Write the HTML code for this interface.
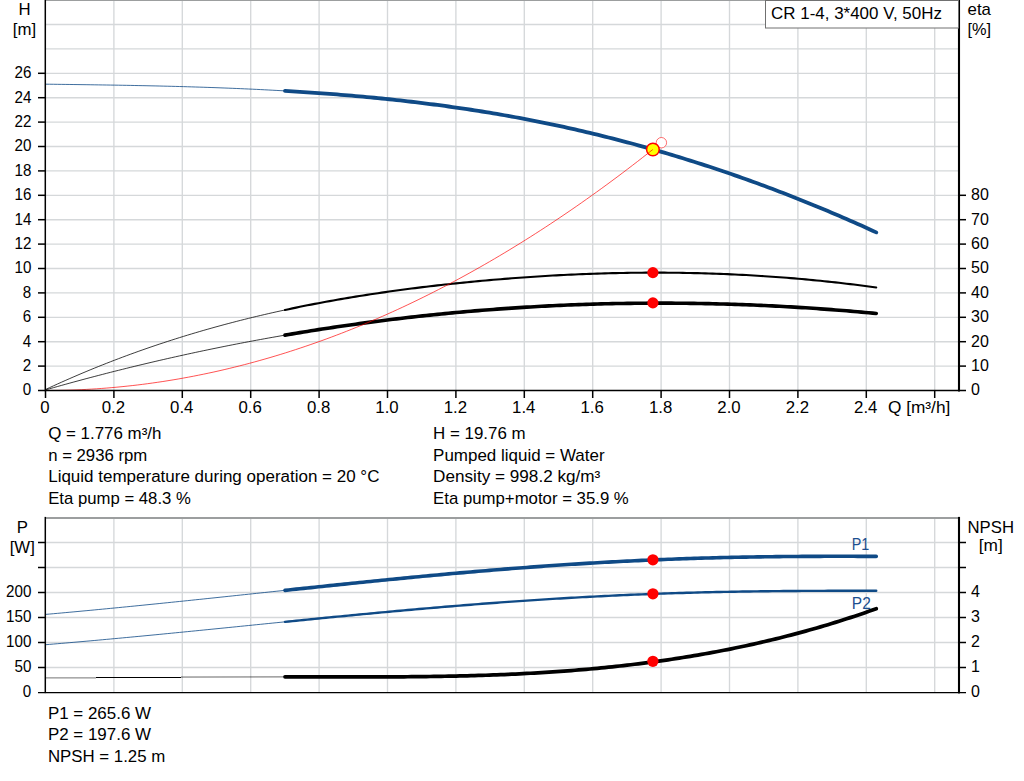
<!DOCTYPE html>
<html><head><meta charset="utf-8"><title>Pump curve</title>
<style>
html,body{margin:0;padding:0;background:#fff;}
body{width:1024px;height:781px;position:relative;overflow:hidden;font-family:"Liberation Sans",sans-serif;}
</style></head><body>
<svg width="1024" height="781" viewBox="0 0 1024 781" style="position:absolute;left:0;top:0">
<rect width="1024" height="781" fill="#fff"/>
<g stroke="#d5d8da" stroke-width="1.35" fill="none">
<line x1="113.90" y1="0.5" x2="113.90" y2="390.5"/>
<line x1="113.90" y1="517.9" x2="113.90" y2="692.5"/>
<line x1="182.30" y1="0.5" x2="182.30" y2="390.5"/>
<line x1="182.30" y1="517.9" x2="182.30" y2="692.5"/>
<line x1="250.70" y1="0.5" x2="250.70" y2="390.5"/>
<line x1="250.70" y1="517.9" x2="250.70" y2="692.5"/>
<line x1="319.10" y1="0.5" x2="319.10" y2="390.5"/>
<line x1="319.10" y1="517.9" x2="319.10" y2="692.5"/>
<line x1="387.50" y1="0.5" x2="387.50" y2="390.5"/>
<line x1="387.50" y1="517.9" x2="387.50" y2="692.5"/>
<line x1="455.90" y1="0.5" x2="455.90" y2="390.5"/>
<line x1="455.90" y1="517.9" x2="455.90" y2="692.5"/>
<line x1="524.30" y1="0.5" x2="524.30" y2="390.5"/>
<line x1="524.30" y1="517.9" x2="524.30" y2="692.5"/>
<line x1="592.70" y1="0.5" x2="592.70" y2="390.5"/>
<line x1="592.70" y1="517.9" x2="592.70" y2="692.5"/>
<line x1="661.10" y1="0.5" x2="661.10" y2="390.5"/>
<line x1="661.10" y1="517.9" x2="661.10" y2="692.5"/>
<line x1="729.50" y1="0.5" x2="729.50" y2="390.5"/>
<line x1="729.50" y1="517.9" x2="729.50" y2="692.5"/>
<line x1="797.90" y1="0.5" x2="797.90" y2="390.5"/>
<line x1="797.90" y1="517.9" x2="797.90" y2="692.5"/>
<line x1="866.30" y1="0.5" x2="866.30" y2="390.5"/>
<line x1="866.30" y1="517.9" x2="866.30" y2="692.5"/>
<line x1="934.70" y1="0.5" x2="934.70" y2="390.5"/>
<line x1="934.70" y1="517.9" x2="934.70" y2="692.5"/>
<line x1="45.5" y1="366.10" x2="959.0" y2="366.10"/>
<line x1="45.5" y1="341.70" x2="959.0" y2="341.70"/>
<line x1="45.5" y1="317.30" x2="959.0" y2="317.30"/>
<line x1="45.5" y1="292.90" x2="959.0" y2="292.90"/>
<line x1="45.5" y1="268.50" x2="959.0" y2="268.50"/>
<line x1="45.5" y1="244.10" x2="959.0" y2="244.10"/>
<line x1="45.5" y1="219.70" x2="959.0" y2="219.70"/>
<line x1="45.5" y1="195.30" x2="959.0" y2="195.30"/>
<line x1="45.5" y1="170.90" x2="959.0" y2="170.90"/>
<line x1="45.5" y1="146.50" x2="959.0" y2="146.50"/>
<line x1="45.5" y1="122.10" x2="959.0" y2="122.10"/>
<line x1="45.5" y1="97.70" x2="959.0" y2="97.70"/>
<line x1="45.5" y1="73.30" x2="959.0" y2="73.30"/>
<line x1="45.5" y1="48.90" x2="959.0" y2="48.90"/>
<line x1="45.5" y1="24.50" x2="959.0" y2="24.50"/>
<line x1="45.5" y1="667.50" x2="959.0" y2="667.50"/>
<line x1="45.5" y1="642.50" x2="959.0" y2="642.50"/>
<line x1="45.5" y1="617.50" x2="959.0" y2="617.50"/>
<line x1="45.5" y1="592.50" x2="959.0" y2="592.50"/>
<line x1="45.5" y1="567.50" x2="959.0" y2="567.50"/>
<line x1="45.5" y1="542.50" x2="959.0" y2="542.50"/>
</g>
<line x1="45.5" y1="0.4" x2="959.0" y2="0.4" stroke="#9c9e9f" stroke-width="1.4"/>
<line x1="45.5" y1="517.9" x2="959.0" y2="517.9" stroke="#9c9e9f" stroke-width="2"/>
<path d="M45.50,84.18 L49.56,84.23 L53.62,84.28 L57.68,84.33 L61.74,84.38 L65.80,84.43 L69.86,84.48 L73.92,84.54 L77.97,84.59 L82.03,84.65 L86.09,84.70 L90.15,84.76 L94.21,84.82 L98.27,84.88 L102.33,84.94 L106.39,85.00 L110.45,85.07 L114.51,85.13 L118.57,85.20 L122.63,85.27 L126.69,85.34 L130.75,85.42 L134.81,85.50 L138.86,85.58 L142.92,85.66 L146.98,85.74 L151.04,85.83 L155.10,85.92 L159.16,86.01 L163.22,86.11 L167.28,86.21 L171.34,86.31 L175.40,86.42 L179.46,86.53 L183.52,86.64 L187.58,86.76 L191.64,86.88 L195.69,87.00 L199.75,87.13 L203.81,87.26 L207.87,87.40 L211.93,87.54 L215.99,87.68 L220.05,87.83 L224.11,87.99 L228.17,88.15 L232.23,88.31 L236.29,88.48 L240.35,88.65 L244.41,88.83 L248.47,89.01 L252.53,89.20 L256.58,89.39 L260.64,89.59 L264.70,89.80 L268.76,90.01 L272.82,90.22 L276.88,90.44 L280.94,90.67 L285.00,90.90" fill="none" stroke="#0f4a86" stroke-width="1.0" stroke-opacity="0.8"/>
<path d="M285.00,90.90 L288.72,91.12 L292.44,91.35 L296.16,91.58 L299.87,91.81 L303.59,92.05 L307.31,92.30 L311.03,92.55 L314.75,92.81 L318.47,93.07 L322.19,93.34 L325.90,93.62 L329.62,93.90 L333.34,94.18 L337.06,94.48 L340.78,94.78 L344.50,95.08 L348.22,95.39 L351.93,95.71 L355.65,96.04 L359.37,96.37 L363.09,96.71 L366.81,97.05 L370.53,97.40 L374.25,97.76 L377.96,98.13 L381.68,98.50 L385.40,98.88 L389.12,99.26 L392.84,99.66 L396.56,100.06 L400.28,100.47 L403.99,100.89 L407.71,101.31 L411.43,101.74 L415.15,102.18 L418.87,102.63 L422.59,103.08 L426.31,103.55 L430.02,104.02 L433.74,104.50 L437.46,104.99 L441.18,105.48 L444.90,105.98 L448.62,106.50 L452.33,107.02 L456.05,107.55 L459.77,108.09 L463.49,108.63 L467.21,109.19 L470.93,109.75 L474.65,110.33 L478.36,110.91 L482.08,111.50 L485.80,112.10 L489.52,112.71 L493.24,113.33 L496.96,113.96 L500.68,114.60 L504.39,115.25 L508.11,115.91 L511.83,116.58 L515.55,117.25 L519.27,117.94 L522.99,118.64 L526.71,119.35 L530.42,120.06 L534.14,120.79 L537.86,121.53 L541.58,122.28 L545.30,123.03 L549.02,123.80 L552.74,124.58 L556.45,125.37 L560.17,126.17 L563.89,126.97 L567.61,127.79 L571.33,128.62 L575.05,129.46 L578.77,130.31 L582.48,131.17 L586.20,132.04 L589.92,132.92 L593.64,133.81 L597.36,134.71 L601.08,135.62 L604.80,136.54 L608.51,137.48 L612.23,138.42 L615.95,139.37 L619.67,140.33 L623.39,141.30 L627.11,142.29 L630.83,143.28 L634.54,144.29 L638.26,145.30 L641.98,146.32 L645.70,147.36 L649.42,148.41 L653.14,149.46 L656.86,150.53 L660.57,151.61 L664.29,152.69 L668.01,153.79 L671.73,154.90 L675.45,156.02 L679.17,157.15 L682.89,158.29 L686.60,159.44 L690.32,160.60 L694.04,161.77 L697.76,162.95 L701.48,164.15 L705.20,165.35 L708.92,166.56 L712.63,167.79 L716.35,169.02 L720.07,170.27 L723.79,171.53 L727.51,172.79 L731.23,174.07 L734.94,175.36 L738.66,176.66 L742.38,177.97 L746.10,179.29 L749.82,180.62 L753.54,181.96 L757.26,183.32 L760.97,184.68 L764.69,186.06 L768.41,187.44 L772.13,188.84 L775.85,190.24 L779.57,191.66 L783.29,193.09 L787.00,194.53 L790.72,195.98 L794.44,197.44 L798.16,198.91 L801.88,200.40 L805.60,201.89 L809.32,203.40 L813.03,204.91 L816.75,206.44 L820.47,207.97 L824.19,209.52 L827.91,211.08 L831.63,212.65 L835.35,214.23 L839.06,215.83 L842.78,217.43 L846.50,219.04 L850.22,220.67 L853.94,222.31 L857.66,223.95 L861.38,225.61 L865.09,227.28 L868.81,228.96 L872.53,230.65 L876.25,232.36" fill="none" stroke="#0f4a86" stroke-width="3.8" stroke-linecap="round"/>

<path d="M45.50,389.52 L49.56,387.63 L53.62,385.77 L57.68,383.92 L61.74,382.09 L65.80,380.29 L69.86,378.51 L73.92,376.74 L77.97,375.00 L82.03,373.28 L86.09,371.58 L90.15,369.89 L94.21,368.23 L98.27,366.59 L102.33,364.96 L106.39,363.36 L110.45,361.77 L114.51,360.21 L118.57,358.66 L122.63,357.13 L126.69,355.62 L130.75,354.13 L134.81,352.66 L138.86,351.20 L142.92,349.77 L146.98,348.35 L151.04,346.95 L155.10,345.57 L159.16,344.20 L163.22,342.86 L167.28,341.53 L171.34,340.22 L175.40,338.92 L179.46,337.64 L183.52,336.38 L187.58,335.14 L191.64,333.91 L195.69,332.70 L199.75,331.50 L203.81,330.32 L207.87,329.16 L211.93,328.02 L215.99,326.88 L220.05,325.77 L224.11,324.67 L228.17,323.59 L232.23,322.52 L236.29,321.46 L240.35,320.42 L244.41,319.40 L248.47,318.39 L252.53,317.40 L256.58,316.42 L260.64,315.45 L264.70,314.50 L268.76,313.56 L272.82,312.64 L276.88,311.73 L280.94,310.84 L285.00,309.95" fill="none" stroke="#000" stroke-width="0.9" stroke-opacity="0.85"/>
<path d="M285.00,309.95 L288.72,309.16 L292.44,308.37 L296.16,307.60 L299.87,306.84 L303.59,306.09 L307.31,305.34 L311.03,304.61 L314.75,303.89 L318.47,303.18 L322.19,302.49 L325.90,301.80 L329.62,301.12 L333.34,300.45 L337.06,299.79 L340.78,299.14 L344.50,298.50 L348.22,297.87 L351.93,297.26 L355.65,296.64 L359.37,296.04 L363.09,295.45 L366.81,294.87 L370.53,294.30 L374.25,293.73 L377.96,293.18 L381.68,292.63 L385.40,292.09 L389.12,291.56 L392.84,291.04 L396.56,290.53 L400.28,290.02 L403.99,289.53 L407.71,289.04 L411.43,288.56 L415.15,288.09 L418.87,287.62 L422.59,287.16 L426.31,286.72 L430.02,286.27 L433.74,285.84 L437.46,285.41 L441.18,284.99 L444.90,284.58 L448.62,284.17 L452.33,283.77 L456.05,283.38 L459.77,282.99 L463.49,282.61 L467.21,282.24 L470.93,281.87 L474.65,281.51 L478.36,281.16 L482.08,280.81 L485.80,280.47 L489.52,280.14 L493.24,279.82 L496.96,279.50 L500.68,279.19 L504.39,278.88 L508.11,278.58 L511.83,278.29 L515.55,278.01 L519.27,277.73 L522.99,277.46 L526.71,277.20 L530.42,276.94 L534.14,276.70 L537.86,276.45 L541.58,276.22 L545.30,275.99 L549.02,275.77 L552.74,275.56 L556.45,275.36 L560.17,275.16 L563.89,274.97 L567.61,274.78 L571.33,274.61 L575.05,274.44 L578.77,274.28 L582.48,274.12 L586.20,273.98 L589.92,273.84 L593.64,273.71 L597.36,273.58 L601.08,273.47 L604.80,273.36 L608.51,273.26 L612.23,273.16 L615.95,273.08 L619.67,273.00 L623.39,272.93 L627.11,272.87 L630.83,272.81 L634.54,272.76 L638.26,272.73 L641.98,272.69 L645.70,272.67 L649.42,272.65 L653.14,272.65 L656.86,272.65 L660.57,272.65 L664.29,272.67 L668.01,272.69 L671.73,272.72 L675.45,272.76 L679.17,272.81 L682.89,272.87 L686.60,272.93 L690.32,273.00 L694.04,273.08 L697.76,273.17 L701.48,273.27 L705.20,273.37 L708.92,273.49 L712.63,273.61 L716.35,273.74 L720.07,273.87 L723.79,274.02 L727.51,274.17 L731.23,274.34 L734.94,274.51 L738.66,274.69 L742.38,274.88 L746.10,275.07 L749.82,275.28 L753.54,275.49 L757.26,275.71 L760.97,275.95 L764.69,276.18 L768.41,276.43 L772.13,276.69 L775.85,276.95 L779.57,277.23 L783.29,277.51 L787.00,277.80 L790.72,278.10 L794.44,278.41 L798.16,278.73 L801.88,279.06 L805.60,279.39 L809.32,279.74 L813.03,280.09 L816.75,280.45 L820.47,280.82 L824.19,281.20 L827.91,281.59 L831.63,281.99 L835.35,282.40 L839.06,282.81 L842.78,283.24 L846.50,283.67 L850.22,284.12 L853.94,284.57 L857.66,285.03 L861.38,285.50 L865.09,285.98 L868.81,286.47 L872.53,286.97 L876.25,287.48" fill="none" stroke="#000" stroke-width="2.1" stroke-linecap="round"/>

<path d="M45.50,389.92 L49.56,388.76 L53.62,387.61 L57.68,386.47 L61.74,385.34 L65.80,384.21 L69.86,383.09 L73.92,381.98 L77.97,380.88 L82.03,379.79 L86.09,378.70 L90.15,377.62 L94.21,376.55 L98.27,375.49 L102.33,374.44 L106.39,373.39 L110.45,372.35 L114.51,371.32 L118.57,370.30 L122.63,369.29 L126.69,368.28 L130.75,367.28 L134.81,366.29 L138.86,365.31 L142.92,364.33 L146.98,363.37 L151.04,362.41 L155.10,361.46 L159.16,360.51 L163.22,359.58 L167.28,358.65 L171.34,357.73 L175.40,356.82 L179.46,355.91 L183.52,355.02 L187.58,354.13 L191.64,353.25 L195.69,352.37 L199.75,351.51 L203.81,350.65 L207.87,349.80 L211.93,348.96 L215.99,348.13 L220.05,347.30 L224.11,346.48 L228.17,345.67 L232.23,344.87 L236.29,344.07 L240.35,343.29 L244.41,342.51 L248.47,341.73 L252.53,340.97 L256.58,340.21 L260.64,339.47 L264.70,338.73 L268.76,337.99 L272.82,337.27 L276.88,336.55 L280.94,335.84 L285.00,335.14" fill="none" stroke="#000" stroke-width="0.9" stroke-opacity="0.85"/>
<path d="M285.00,335.14 L288.72,334.50 L292.44,333.87 L296.16,333.25 L299.87,332.63 L303.59,332.02 L307.31,331.42 L311.03,330.82 L314.75,330.23 L318.47,329.65 L322.19,329.07 L325.90,328.50 L329.62,327.93 L333.34,327.37 L337.06,326.82 L340.78,326.28 L344.50,325.74 L348.22,325.20 L351.93,324.68 L355.65,324.16 L359.37,323.65 L363.09,323.14 L366.81,322.64 L370.53,322.14 L374.25,321.66 L377.96,321.17 L381.68,320.70 L385.40,320.23 L389.12,319.77 L392.84,319.31 L396.56,318.86 L400.28,318.42 L403.99,317.98 L407.71,317.55 L411.43,317.13 L415.15,316.71 L418.87,316.30 L422.59,315.90 L426.31,315.50 L430.02,315.11 L433.74,314.72 L437.46,314.34 L441.18,313.97 L444.90,313.60 L448.62,313.24 L452.33,312.89 L456.05,312.54 L459.77,312.20 L463.49,311.87 L467.21,311.54 L470.93,311.22 L474.65,310.90 L478.36,310.59 L482.08,310.29 L485.80,309.99 L489.52,309.70 L493.24,309.42 L496.96,309.14 L500.68,308.87 L504.39,308.60 L508.11,308.35 L511.83,308.09 L515.55,307.85 L519.27,307.61 L522.99,307.37 L526.71,307.15 L530.42,306.93 L534.14,306.71 L537.86,306.50 L541.58,306.30 L545.30,306.11 L549.02,305.92 L552.74,305.73 L556.45,305.56 L560.17,305.39 L563.89,305.22 L567.61,305.06 L571.33,304.91 L575.05,304.76 L578.77,304.63 L582.48,304.49 L586.20,304.37 L589.92,304.24 L593.64,304.13 L597.36,304.02 L601.08,303.92 L604.80,303.82 L608.51,303.73 L612.23,303.65 L615.95,303.57 L619.67,303.50 L623.39,303.44 L627.11,303.38 L630.83,303.33 L634.54,303.28 L638.26,303.24 L641.98,303.21 L645.70,303.18 L649.42,303.16 L653.14,303.15 L656.86,303.14 L660.57,303.13 L664.29,303.14 L668.01,303.15 L671.73,303.16 L675.45,303.18 L679.17,303.21 L682.89,303.25 L686.60,303.29 L690.32,303.33 L694.04,303.39 L697.76,303.45 L701.48,303.51 L705.20,303.58 L708.92,303.66 L712.63,303.74 L716.35,303.83 L720.07,303.93 L723.79,304.03 L727.51,304.14 L731.23,304.25 L734.94,304.37 L738.66,304.50 L742.38,304.63 L746.10,304.77 L749.82,304.92 L753.54,305.07 L757.26,305.22 L760.97,305.39 L764.69,305.56 L768.41,305.73 L772.13,305.91 L775.85,306.10 L779.57,306.29 L783.29,306.49 L787.00,306.70 L790.72,306.91 L794.44,307.13 L798.16,307.35 L801.88,307.58 L805.60,307.82 L809.32,308.06 L813.03,308.31 L816.75,308.56 L820.47,308.83 L824.19,309.09 L827.91,309.36 L831.63,309.64 L835.35,309.93 L839.06,310.22 L842.78,310.51 L846.50,310.82 L850.22,311.13 L853.94,311.44 L857.66,311.76 L861.38,312.09 L865.09,312.42 L868.81,312.76 L872.53,313.10 L876.25,313.45" fill="none" stroke="#000" stroke-width="3.6" stroke-linecap="round"/>

<circle cx="661.4" cy="142.7" r="5.2" fill="#fff" stroke="#ff0000" stroke-width="0.8" stroke-opacity="0.7"/>
<circle cx="652.9" cy="149.5" r="6.3" fill="#ffff00" stroke="#ff0000" stroke-width="1.5"/>
<path d="M45.50,390.50 L50.60,390.48 L55.71,390.43 L60.81,390.35 L65.91,390.23 L71.02,390.07 L76.12,389.89 L81.22,389.67 L86.33,389.41 L91.43,389.12 L96.53,388.80 L101.64,388.44 L106.74,388.05 L111.84,387.62 L116.95,387.16 L122.05,386.67 L127.15,386.14 L132.26,385.58 L137.36,384.99 L142.46,384.36 L147.57,383.69 L152.67,382.99 L157.77,382.26 L162.88,381.50 L167.98,380.70 L173.08,379.86 L178.19,379.00 L183.29,378.09 L188.39,377.16 L193.50,376.19 L198.60,375.18 L203.70,374.15 L208.81,373.07 L213.91,371.97 L219.01,370.83 L224.12,369.65 L229.22,368.44 L234.32,367.20 L239.43,365.93 L244.53,364.61 L249.63,363.27 L254.74,361.89 L259.84,360.48 L264.94,359.03 L270.05,357.55 L275.15,356.04 L280.25,354.49 L285.36,352.91 L290.46,351.29 L295.56,349.64 L300.67,347.95 L305.77,346.23 L310.87,344.48 L315.98,342.69 L321.08,340.87 L326.18,339.02 L331.29,337.13 L336.39,335.21 L341.49,333.25 L346.60,331.26 L351.70,329.23 L356.81,327.17 L361.91,325.08 L367.01,322.95 L372.12,320.79 L377.22,318.60 L382.32,316.37 L387.43,314.10 L392.53,311.81 L397.63,309.47 L402.74,307.11 L407.84,304.71 L412.94,302.28 L418.05,299.81 L423.15,297.31 L428.25,294.77 L433.36,292.20 L438.46,289.60 L443.56,286.96 L448.67,284.29 L453.77,281.58 L458.87,278.84 L463.98,276.07 L469.08,273.26 L474.18,270.42 L479.29,267.54 L484.39,264.63 L489.49,261.69 L494.60,258.71 L499.70,255.70 L504.80,252.65 L509.91,249.57 L515.01,246.45 L520.11,243.31 L525.22,240.12 L530.32,236.91 L535.42,233.66 L540.53,230.37 L545.63,227.05 L550.73,223.70 L555.84,220.31 L560.94,216.89 L566.04,213.44 L571.15,209.95 L576.25,206.43 L581.35,202.87 L586.46,199.28 L591.56,195.65 L596.66,192.00 L601.77,188.30 L606.87,184.58 L611.97,180.81 L617.08,177.02 L622.18,173.19 L627.28,169.33 L632.39,165.43 L637.49,161.50 L642.59,157.53 L647.70,153.53 L652.80,149.50" fill="none" stroke="#ff0000" stroke-width="0.8" stroke-opacity="0.85"/>
<circle cx="652.9" cy="272.6" r="5.6" fill="#ff0000"/>
<circle cx="652.9" cy="302.9" r="5.6" fill="#ff0000"/>
<path d="M45.50,614.42 L49.56,614.06 L53.62,613.70 L57.68,613.33 L61.74,612.96 L65.80,612.59 L69.86,612.22 L73.92,611.85 L77.97,611.47 L82.03,611.09 L86.09,610.71 L90.15,610.33 L94.21,609.94 L98.27,609.56 L102.33,609.17 L106.39,608.78 L110.45,608.39 L114.51,607.99 L118.57,607.60 L122.63,607.20 L126.69,606.80 L130.75,606.40 L134.81,606.00 L138.86,605.59 L142.92,605.19 L146.98,604.78 L151.04,604.37 L155.10,603.96 L159.16,603.55 L163.22,603.13 L167.28,602.72 L171.34,602.30 L175.40,601.89 L179.46,601.47 L183.52,601.05 L187.58,600.63 L191.64,600.21 L195.69,599.78 L199.75,599.36 L203.81,598.94 L207.87,598.51 L211.93,598.08 L215.99,597.66 L220.05,597.23 L224.11,596.80 L228.17,596.37 L232.23,595.94 L236.29,595.51 L240.35,595.08 L244.41,594.65 L248.47,594.22 L252.53,593.79 L256.58,593.36 L260.64,592.93 L264.70,592.50 L268.76,592.07 L272.82,591.63 L276.88,591.20 L280.94,590.77 L285.00,590.34" fill="none" stroke="#0f4a86" stroke-width="1.0" stroke-opacity="0.8"/>
<path d="M285.00,590.34 L288.72,589.95 L292.44,589.55 L296.16,589.16 L299.87,588.76 L303.59,588.37 L307.31,587.98 L311.03,587.59 L314.75,587.20 L318.47,586.81 L322.19,586.42 L325.90,586.03 L329.62,585.64 L333.34,585.25 L337.06,584.86 L340.78,584.48 L344.50,584.09 L348.22,583.71 L351.93,583.33 L355.65,582.94 L359.37,582.56 L363.09,582.18 L366.81,581.81 L370.53,581.43 L374.25,581.06 L377.96,580.68 L381.68,580.31 L385.40,579.94 L389.12,579.57 L392.84,579.20 L396.56,578.84 L400.28,578.47 L403.99,578.11 L407.71,577.75 L411.43,577.39 L415.15,577.03 L418.87,576.68 L422.59,576.32 L426.31,575.97 L430.02,575.63 L433.74,575.28 L437.46,574.93 L441.18,574.59 L444.90,574.25 L448.62,573.91 L452.33,573.58 L456.05,573.25 L459.77,572.91 L463.49,572.59 L467.21,572.26 L470.93,571.94 L474.65,571.62 L478.36,571.30 L482.08,570.98 L485.80,570.67 L489.52,570.36 L493.24,570.06 L496.96,569.75 L500.68,569.45 L504.39,569.15 L508.11,568.86 L511.83,568.56 L515.55,568.27 L519.27,567.99 L522.99,567.70 L526.71,567.42 L530.42,567.15 L534.14,566.87 L537.86,566.60 L541.58,566.34 L545.30,566.07 L549.02,565.81 L552.74,565.55 L556.45,565.30 L560.17,565.05 L563.89,564.80 L567.61,564.56 L571.33,564.31 L575.05,564.08 L578.77,563.84 L582.48,563.61 L586.20,563.39 L589.92,563.16 L593.64,562.94 L597.36,562.73 L601.08,562.52 L604.80,562.31 L608.51,562.10 L612.23,561.90 L615.95,561.70 L619.67,561.51 L623.39,561.32 L627.11,561.13 L630.83,560.95 L634.54,560.77 L638.26,560.59 L641.98,560.42 L645.70,560.25 L649.42,560.09 L653.14,559.93 L656.86,559.77 L660.57,559.62 L664.29,559.47 L668.01,559.32 L671.73,559.18 L675.45,559.04 L679.17,558.90 L682.89,558.77 L686.60,558.65 L690.32,558.52 L694.04,558.40 L697.76,558.29 L701.48,558.17 L705.20,558.06 L708.92,557.96 L712.63,557.86 L716.35,557.76 L720.07,557.66 L723.79,557.57 L727.51,557.48 L731.23,557.40 L734.94,557.32 L738.66,557.24 L742.38,557.17 L746.10,557.10 L749.82,557.03 L753.54,556.96 L757.26,556.90 L760.97,556.85 L764.69,556.79 L768.41,556.74 L772.13,556.69 L775.85,556.65 L779.57,556.60 L783.29,556.57 L787.00,556.53 L790.72,556.50 L794.44,556.47 L798.16,556.44 L801.88,556.41 L805.60,556.39 L809.32,556.37 L813.03,556.35 L816.75,556.34 L820.47,556.33 L824.19,556.32 L827.91,556.31 L831.63,556.31 L835.35,556.30 L839.06,556.30 L842.78,556.30 L846.50,556.31 L850.22,556.31 L853.94,556.32 L857.66,556.33 L861.38,556.34 L865.09,556.35 L868.81,556.36 L872.53,556.38 L876.25,556.39" fill="none" stroke="#0f4a86" stroke-width="3.6" stroke-linecap="round"/>

<path d="M45.50,644.72 L49.56,644.38 L53.62,644.04 L57.68,643.70 L61.74,643.35 L65.80,643.00 L69.86,642.65 L73.92,642.30 L77.97,641.94 L82.03,641.58 L86.09,641.22 L90.15,640.86 L94.21,640.50 L98.27,640.13 L102.33,639.76 L106.39,639.39 L110.45,639.02 L114.51,638.64 L118.57,638.27 L122.63,637.89 L126.69,637.51 L130.75,637.13 L134.81,636.74 L138.86,636.36 L142.92,635.97 L146.98,635.58 L151.04,635.19 L155.10,634.80 L159.16,634.41 L163.22,634.01 L167.28,633.62 L171.34,633.22 L175.40,632.82 L179.46,632.43 L183.52,632.03 L187.58,631.62 L191.64,631.22 L195.69,630.82 L199.75,630.42 L203.81,630.01 L207.87,629.60 L211.93,629.20 L215.99,628.79 L220.05,628.38 L224.11,627.98 L228.17,627.57 L232.23,627.16 L236.29,626.75 L240.35,626.34 L244.41,625.93 L248.47,625.52 L252.53,625.11 L256.58,624.70 L260.64,624.30 L264.70,623.89 L268.76,623.48 L272.82,623.07 L276.88,622.66 L280.94,622.25 L285.00,621.84" fill="none" stroke="#0f4a86" stroke-width="1.0" stroke-opacity="0.8"/>
<path d="M285.00,621.84 L288.72,621.47 L292.44,621.10 L296.16,620.73 L299.87,620.35 L303.59,619.98 L307.31,619.61 L311.03,619.24 L314.75,618.87 L318.47,618.51 L322.19,618.14 L325.90,617.77 L329.62,617.41 L333.34,617.04 L337.06,616.68 L340.78,616.32 L344.50,615.96 L348.22,615.60 L351.93,615.24 L355.65,614.88 L359.37,614.53 L363.09,614.17 L366.81,613.82 L370.53,613.47 L374.25,613.12 L377.96,612.77 L381.68,612.42 L385.40,612.08 L389.12,611.73 L392.84,611.39 L396.56,611.05 L400.28,610.71 L403.99,610.37 L407.71,610.04 L411.43,609.71 L415.15,609.38 L418.87,609.05 L422.59,608.72 L426.31,608.40 L430.02,608.08 L433.74,607.76 L437.46,607.44 L441.18,607.12 L444.90,606.81 L448.62,606.50 L452.33,606.19 L456.05,605.89 L459.77,605.58 L463.49,605.28 L467.21,604.98 L470.93,604.69 L474.65,604.39 L478.36,604.10 L482.08,603.82 L485.80,603.53 L489.52,603.25 L493.24,602.97 L496.96,602.69 L500.68,602.42 L504.39,602.15 L508.11,601.88 L511.83,601.61 L515.55,601.35 L519.27,601.09 L522.99,600.84 L526.71,600.58 L530.42,600.33 L534.14,600.09 L537.86,599.84 L541.58,599.60 L545.30,599.37 L549.02,599.13 L552.74,598.90 L556.45,598.67 L560.17,598.45 L563.89,598.23 L567.61,598.01 L571.33,597.79 L575.05,597.58 L578.77,597.37 L582.48,597.17 L586.20,596.97 L589.92,596.77 L593.64,596.58 L597.36,596.38 L601.08,596.20 L604.80,596.01 L608.51,595.83 L612.23,595.65 L615.95,595.48 L619.67,595.31 L623.39,595.14 L627.11,594.98 L630.83,594.82 L634.54,594.66 L638.26,594.51 L641.98,594.36 L645.70,594.21 L649.42,594.07 L653.14,593.93 L656.86,593.79 L660.57,593.66 L664.29,593.53 L668.01,593.40 L671.73,593.28 L675.45,593.16 L679.17,593.04 L682.89,592.93 L686.60,592.82 L690.32,592.71 L694.04,592.61 L697.76,592.51 L701.48,592.41 L705.20,592.32 L708.92,592.23 L712.63,592.14 L716.35,592.06 L720.07,591.98 L723.79,591.90 L727.51,591.83 L731.23,591.76 L734.94,591.69 L738.66,591.62 L742.38,591.56 L746.10,591.50 L749.82,591.44 L753.54,591.39 L757.26,591.34 L760.97,591.29 L764.69,591.24 L768.41,591.20 L772.13,591.16 L775.85,591.12 L779.57,591.08 L783.29,591.05 L787.00,591.02 L790.72,590.99 L794.44,590.96 L798.16,590.94 L801.88,590.92 L805.60,590.90 L809.32,590.88 L813.03,590.86 L816.75,590.85 L820.47,590.84 L824.19,590.83 L827.91,590.82 L831.63,590.81 L835.35,590.80 L839.06,590.80 L842.78,590.80 L846.50,590.79 L850.22,590.79 L853.94,590.79 L857.66,590.80 L861.38,590.80 L865.09,590.80 L868.81,590.81 L872.53,590.81 L876.25,590.82" fill="none" stroke="#0f4a86" stroke-width="2.4" stroke-linecap="round"/>

<path d="M45.50,677.91 L49.56,677.84 L53.62,677.78 L57.68,677.71 L61.74,677.65 L65.80,677.59 L69.86,677.54 L73.92,677.48 L77.97,677.43 L82.03,677.39 L86.09,677.34 L90.15,677.29 L94.21,677.25 L98.27,677.21 L102.33,677.18 L106.39,677.14 L110.45,677.11 L114.51,677.07 L118.57,677.04 L122.63,677.02 L126.69,676.99 L130.75,676.97 L134.81,676.94 L138.86,676.92 L142.92,676.90 L146.98,676.88 L151.04,676.87 L155.10,676.85 L159.16,676.84 L163.22,676.83 L167.28,676.82 L171.34,676.81 L175.40,676.80 L179.46,676.79 L183.52,676.79 L187.58,676.78 L191.64,676.78 L195.69,676.77 L199.75,676.77 L203.81,676.77 L207.87,676.77 L211.93,676.77 L215.99,676.77 L220.05,676.78 L224.11,676.78 L228.17,676.78 L232.23,676.79 L236.29,676.79 L240.35,676.80 L244.41,676.80 L248.47,676.81 L252.53,676.82 L256.58,676.82 L260.64,676.83 L264.70,676.84 L268.76,676.84 L272.82,676.85 L276.88,676.86 L280.94,676.87 L285.00,676.87" fill="none" stroke="#000" stroke-width="0.0" stroke-opacity="0.0"/>
<path d="M285.00,676.87 L288.72,676.88 L292.44,676.89 L296.16,676.89 L299.87,676.90 L303.59,676.91 L307.31,676.91 L311.03,676.92 L314.75,676.92 L318.47,676.93 L322.19,676.93 L325.90,676.94 L329.62,676.94 L333.34,676.94 L337.06,676.95 L340.78,676.95 L344.50,676.95 L348.22,676.95 L351.93,676.95 L355.65,676.95 L359.37,676.95 L363.09,676.94 L366.81,676.94 L370.53,676.93 L374.25,676.93 L377.96,676.92 L381.68,676.90 L385.40,676.89 L389.12,676.87 L392.84,676.85 L396.56,676.83 L400.28,676.81 L403.99,676.78 L407.71,676.75 L411.43,676.72 L415.15,676.69 L418.87,676.65 L422.59,676.60 L426.31,676.56 L430.02,676.51 L433.74,676.45 L437.46,676.40 L441.18,676.34 L444.90,676.27 L448.62,676.20 L452.33,676.12 L456.05,676.05 L459.77,675.96 L463.49,675.87 L467.21,675.78 L470.93,675.68 L474.65,675.57 L478.36,675.46 L482.08,675.35 L485.80,675.23 L489.52,675.10 L493.24,674.97 L496.96,674.83 L500.68,674.68 L504.39,674.53 L508.11,674.37 L511.83,674.21 L515.55,674.03 L519.27,673.85 L522.99,673.67 L526.71,673.47 L530.42,673.27 L534.14,673.07 L537.86,672.85 L541.58,672.63 L545.30,672.40 L549.02,672.16 L552.74,671.91 L556.45,671.66 L560.17,671.39 L563.89,671.12 L567.61,670.84 L571.33,670.56 L575.05,670.26 L578.77,669.96 L582.48,669.64 L586.20,669.32 L589.92,668.99 L593.64,668.65 L597.36,668.30 L601.08,667.94 L604.80,667.57 L608.51,667.20 L612.23,666.81 L615.95,666.41 L619.67,666.01 L623.39,665.59 L627.11,665.17 L630.83,664.73 L634.54,664.28 L638.26,663.83 L641.98,663.36 L645.70,662.88 L649.42,662.40 L653.14,661.90 L656.86,661.39 L660.57,660.87 L664.29,660.34 L668.01,659.80 L671.73,659.25 L675.45,658.68 L679.17,658.11 L682.89,657.52 L686.60,656.92 L690.32,656.32 L694.04,655.69 L697.76,655.06 L701.48,654.42 L705.20,653.76 L708.92,653.09 L712.63,652.41 L716.35,651.72 L720.07,651.01 L723.79,650.29 L727.51,649.56 L731.23,648.82 L734.94,648.06 L738.66,647.29 L742.38,646.51 L746.10,645.71 L749.82,644.90 L753.54,644.08 L757.26,643.25 L760.97,642.40 L764.69,641.53 L768.41,640.66 L772.13,639.77 L775.85,638.86 L779.57,637.94 L783.29,637.01 L787.00,636.06 L790.72,635.10 L794.44,634.12 L798.16,633.13 L801.88,632.12 L805.60,631.10 L809.32,630.07 L813.03,629.01 L816.75,627.95 L820.47,626.86 L824.19,625.77 L827.91,624.65 L831.63,623.52 L835.35,622.38 L839.06,621.22 L842.78,620.04 L846.50,618.84 L850.22,617.63 L853.94,616.41 L857.66,615.16 L861.38,613.90 L865.09,612.63 L868.81,611.33 L872.53,610.02 L876.25,608.69" fill="none" stroke="#000" stroke-width="3.7" stroke-linecap="round"/>

<path d="M45.5,677.9 L96,677.9" stroke="#000" stroke-width="1" stroke-opacity="0.55" fill="none"/>
<path d="M96,677.5 L181,677.5" stroke="#000" stroke-width="1" fill="none"/>
<path d="M181,677.05 L285,676.9" stroke="#000" stroke-width="1" stroke-opacity="0.6" fill="none"/>
<circle cx="652.9" cy="559.8" r="5.6" fill="#ff0000"/>
<circle cx="652.9" cy="593.8" r="5.6" fill="#ff0000"/>
<circle cx="652.9" cy="661.3" r="5.6" fill="#ff0000"/>
<g stroke="#000" fill="none">
<line x1="45.3" y1="0" x2="45.3" y2="391.2" stroke-width="1.5"/>
<line x1="959.0" y1="0" x2="959.0" y2="391.6" stroke-width="2.1"/>
<line x1="38.0" y1="390.5" x2="966.0" y2="390.5" stroke-width="1.45"/>
<line x1="45.3" y1="516.9" x2="45.3" y2="693.1" stroke-width="1.5"/>
<line x1="959.0" y1="516.9" x2="959.0" y2="693.4" stroke-width="2.1"/>
<line x1="38.0" y1="692.5" x2="966.0" y2="692.5" stroke-width="1.25"/>
</g>
<g stroke="#000" stroke-width="1.5" fill="none">
<line x1="38.0" y1="366.10" x2="45.5" y2="366.10"/>
<line x1="38.0" y1="341.70" x2="45.5" y2="341.70"/>
<line x1="38.0" y1="317.30" x2="45.5" y2="317.30"/>
<line x1="38.0" y1="292.90" x2="45.5" y2="292.90"/>
<line x1="38.0" y1="268.50" x2="45.5" y2="268.50"/>
<line x1="38.0" y1="244.10" x2="45.5" y2="244.10"/>
<line x1="38.0" y1="219.70" x2="45.5" y2="219.70"/>
<line x1="38.0" y1="195.30" x2="45.5" y2="195.30"/>
<line x1="38.0" y1="170.90" x2="45.5" y2="170.90"/>
<line x1="38.0" y1="146.50" x2="45.5" y2="146.50"/>
<line x1="38.0" y1="122.10" x2="45.5" y2="122.10"/>
<line x1="38.0" y1="97.70" x2="45.5" y2="97.70"/>
<line x1="38.0" y1="73.30" x2="45.5" y2="73.30"/>
<line x1="959.0" y1="366.10" x2="966.0" y2="366.10"/>
<line x1="959.0" y1="341.70" x2="966.0" y2="341.70"/>
<line x1="959.0" y1="317.30" x2="966.0" y2="317.30"/>
<line x1="959.0" y1="292.90" x2="966.0" y2="292.90"/>
<line x1="959.0" y1="268.50" x2="966.0" y2="268.50"/>
<line x1="959.0" y1="244.10" x2="966.0" y2="244.10"/>
<line x1="959.0" y1="219.70" x2="966.0" y2="219.70"/>
<line x1="959.0" y1="195.30" x2="966.0" y2="195.30"/>
<line x1="45.50" y1="390.5" x2="45.50" y2="398.0"/>
<line x1="113.90" y1="390.5" x2="113.90" y2="398.0"/>
<line x1="182.30" y1="390.5" x2="182.30" y2="398.0"/>
<line x1="250.70" y1="390.5" x2="250.70" y2="398.0"/>
<line x1="319.10" y1="390.5" x2="319.10" y2="398.0"/>
<line x1="387.50" y1="390.5" x2="387.50" y2="398.0"/>
<line x1="455.90" y1="390.5" x2="455.90" y2="398.0"/>
<line x1="524.30" y1="390.5" x2="524.30" y2="398.0"/>
<line x1="592.70" y1="390.5" x2="592.70" y2="398.0"/>
<line x1="661.10" y1="390.5" x2="661.10" y2="398.0"/>
<line x1="729.50" y1="390.5" x2="729.50" y2="398.0"/>
<line x1="797.90" y1="390.5" x2="797.90" y2="398.0"/>
<line x1="866.30" y1="390.5" x2="866.30" y2="398.0"/>
<line x1="934.70" y1="390.5" x2="934.70" y2="398.0"/>
<line x1="38.0" y1="667.50" x2="45.5" y2="667.50"/>
<line x1="959.0" y1="667.50" x2="966.0" y2="667.50"/>
<line x1="38.0" y1="642.50" x2="45.5" y2="642.50"/>
<line x1="959.0" y1="642.50" x2="966.0" y2="642.50"/>
<line x1="38.0" y1="617.50" x2="45.5" y2="617.50"/>
<line x1="959.0" y1="617.50" x2="966.0" y2="617.50"/>
<line x1="38.0" y1="592.50" x2="45.5" y2="592.50"/>
<line x1="959.0" y1="592.50" x2="966.0" y2="592.50"/>
<line x1="38.0" y1="567.50" x2="45.5" y2="567.50"/>
<line x1="959.0" y1="567.50" x2="966.0" y2="567.50"/>
<line x1="38.0" y1="542.50" x2="45.5" y2="542.50"/>
<line x1="959.0" y1="542.50" x2="966.0" y2="542.50"/>
</g>
<rect x="765.5" y="0.5" width="193" height="27.5" fill="#fff" stroke="#707070" stroke-width="1"/>
<g font-family="Liberation Sans, sans-serif" font-size="16px" fill="#000">
<text transform="translate(771.10,18.80) scale(1.0598,1)">CR 1-4, 3*400 V, 50Hz</text>
<text transform="translate(22.85,395.30) scale(0.9500,1)">0</text>
<text transform="translate(22.85,370.90) scale(0.9500,1)">2</text>
<text transform="translate(22.85,346.50) scale(0.9500,1)">4</text>
<text transform="translate(22.85,322.10) scale(0.9500,1)">6</text>
<text transform="translate(22.85,297.70) scale(0.9500,1)">8</text>
<text transform="translate(14.54,273.30) scale(0.9500,1)">10</text>
<text transform="translate(14.54,248.90) scale(0.9500,1)">12</text>
<text transform="translate(14.54,224.50) scale(0.9500,1)">14</text>
<text transform="translate(14.54,200.10) scale(0.9500,1)">16</text>
<text transform="translate(14.54,175.70) scale(0.9500,1)">18</text>
<text transform="translate(14.54,151.30) scale(0.9500,1)">20</text>
<text transform="translate(14.54,126.90) scale(0.9500,1)">22</text>
<text transform="translate(14.54,102.50) scale(0.9500,1)">24</text>
<text transform="translate(14.54,78.10) scale(0.9500,1)">26</text>
<text transform="translate(971.00,395.30) scale(1.0000,1)">0</text>
<text transform="translate(971.00,370.90) scale(1.0000,1)">10</text>
<text transform="translate(971.00,346.50) scale(1.0000,1)">20</text>
<text transform="translate(971.00,322.10) scale(1.0000,1)">30</text>
<text transform="translate(971.00,297.70) scale(1.0000,1)">40</text>
<text transform="translate(971.00,273.30) scale(1.0000,1)">50</text>
<text transform="translate(971.00,248.90) scale(1.0000,1)">60</text>
<text transform="translate(971.00,224.50) scale(1.0000,1)">70</text>
<text transform="translate(971.00,200.10) scale(1.0000,1)">80</text>
<text transform="translate(40.27,413.00) scale(1.0500,1)">0</text>
<text transform="translate(101.72,413.00) scale(1.0500,1)">0.2</text>
<text transform="translate(170.12,413.00) scale(1.0500,1)">0.4</text>
<text transform="translate(238.52,413.00) scale(1.0500,1)">0.6</text>
<text transform="translate(306.92,413.00) scale(1.0500,1)">0.8</text>
<text transform="translate(375.32,413.00) scale(1.0500,1)">1.0</text>
<text transform="translate(443.72,413.00) scale(1.0500,1)">1.2</text>
<text transform="translate(512.12,413.00) scale(1.0500,1)">1.4</text>
<text transform="translate(580.52,413.00) scale(1.0500,1)">1.6</text>
<text transform="translate(648.92,413.00) scale(1.0500,1)">1.8</text>
<text transform="translate(717.32,413.00) scale(1.0500,1)">2.0</text>
<text transform="translate(785.72,413.00) scale(1.0500,1)">2.2</text>
<text transform="translate(854.12,413.00) scale(1.0500,1)">2.4</text>
<text transform="translate(888.00,413.00) scale(1.0788,1)">Q [m³/h]</text>
<text transform="translate(18.46,14.80) scale(1.0500,1)">H</text>
<text transform="translate(12.82,34.50) scale(1.0500,1)">[m]</text>
<text transform="translate(967.60,14.80) scale(1.0517,1)">eta</text>
<text transform="translate(967.55,34.60) scale(1.0217,1)">[%]</text>
<text transform="translate(22.85,697.30) scale(0.9500,1)">0</text>
<text transform="translate(971.00,697.30) scale(1.0000,1)">0</text>
<text transform="translate(14.54,672.30) scale(0.9500,1)">50</text>
<text transform="translate(971.00,672.30) scale(1.0000,1)">1</text>
<text transform="translate(5.99,647.30) scale(0.9500,1)">100</text>
<text transform="translate(971.00,647.30) scale(1.0000,1)">2</text>
<text transform="translate(5.99,622.30) scale(0.9500,1)">150</text>
<text transform="translate(971.00,622.30) scale(1.0000,1)">3</text>
<text transform="translate(5.99,597.30) scale(0.9500,1)">200</text>
<text transform="translate(971.00,597.30) scale(1.0000,1)">4</text>
<text transform="translate(16.66,533.30) scale(1.0500,1)">P</text>
<text transform="translate(9.70,552.50) scale(1.0500,1)">[W]</text>
<text transform="translate(967.55,532.50) scale(1.0449,1)">NPSH</text>
<text transform="translate(978.80,551.30) scale(1.0787,1)">[m]</text>
<text transform="translate(851.80,549.50) scale(0.8974,1)" fill="#1c4f8f">P1</text>
<text transform="translate(851.80,608.70) scale(0.9692,1)" fill="#1c4f8f">P2</text>
<text transform="translate(48.20,438.70) scale(1.0573,1)">Q = 1.776 m³/h</text>
<text transform="translate(48.20,460.60) scale(1.0459,1)">n = 2936 rpm</text>
<text transform="translate(48.20,481.60) scale(1.0622,1)">Liquid temperature during operation = 20 °C</text>
<text transform="translate(48.20,503.70) scale(1.0454,1)">Eta pump = 48.3 %</text>
<text transform="translate(433.10,438.70) scale(1.0560,1)">H = 19.76 m</text>
<text transform="translate(433.10,460.60) scale(1.0615,1)">Pumped liquid = Water</text>
<text transform="translate(433.10,481.60) scale(1.0718,1)">Density = 998.2 kg/m³</text>
<text transform="translate(433.10,503.70) scale(1.0490,1)">Eta pump+motor = 35.9 %</text>
<text transform="translate(47.90,718.60) scale(1.0595,1)">P1 = 265.6 W</text>
<text transform="translate(47.90,739.80) scale(1.0595,1)">P2 = 197.6 W</text>
<text transform="translate(47.90,761.70) scale(1.0520,1)">NPSH = 1.25 m</text>
</g>
</svg>
</body></html>
